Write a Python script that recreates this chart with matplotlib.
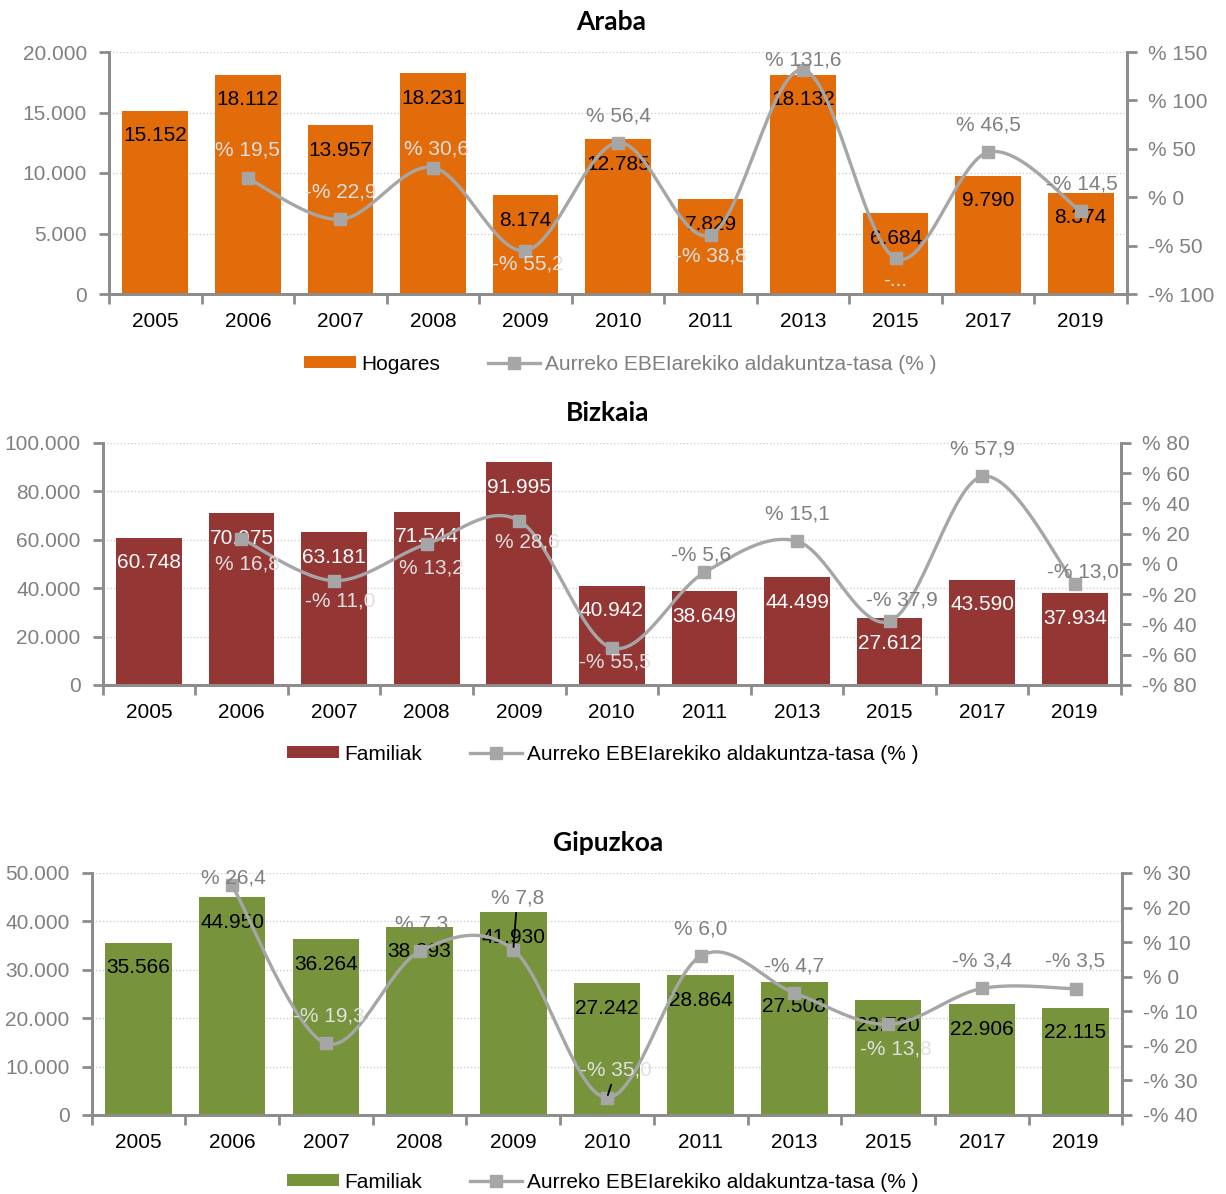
import numpy as np
import matplotlib
matplotlib.use("Agg")
import matplotlib.pyplot as plt
from matplotlib.lines import Line2D
from matplotlib.patches import Patch

plt.rcParams['font.family'] = ['Liberation Sans', 'DejaVu Sans']

years = ["2005", "2006", "2007", "2008", "2009", "2010", "2011", "2013", "2015", "2017", "2019"]

araba_values = [15152, 18112, 13957, 18231, 8174, 12785, 7829, 18132, 6684, 9790, 8374]
araba_pct = [None, 19.5, -22.9, 30.6, -55.2, 56.4, -38.8, 131.6, -63.1, 46.5, -14.5]

bizkaia_values = [60748, 70975, 63181, 71544, 91995, 40942, 38649, 44499, 27612, 43590, 37934]
bizkaia_pct = [None, 16.8, -11.0, 13.2, 28.6, -55.5, -5.6, 15.1, -37.9, 57.9, -13.0]

gipuzkoa_values = [35566, 44950, 36264, 38893, 41930, 27242, 28864, 27508, 23720, 22906, 22115]
gipuzkoa_pct = [None, 26.4, -19.3, 7.3, 7.8, -35.0, 6.0, -4.7, -13.8, -3.4, -3.5]

titles = ["Araba", "Bizkaia", "Gipuzkoa"]
bar_names = ["Hogares", "Familiak", "Familiak"]
line_name = "Aurreko EBEIarekiko aldakuntza-tasa (% )"

LIGHT = '#e0e0e0'
DARK = '#7f7f7f'
GREY_LINE = '#a6a6a6'
SPINE = '#8c8c8c'
PX = 0.72  # points per pixel at dpi 100

panels = [
    dict(values=araba_values, pct=araba_pct, color='#E36C0A', barlabel='black',
         rect=[109/1226, 1-294/1194, 1018/1226, 242/1194],
         ylim=(0, 20000), ystep=5000, y2lim=(-100, 150), y2step=50,
         title_xy=(611/1226, 1-22/1194), leg_xy=(620/1226, 1-364/1194),
         leg_text2='#7f7f7f',
         dy=[None, 28, 27, 19, -13, 27, -21, 10, -22, 27, 27],
         dx=[0, 0, 0, 4, 2, 0, 0, 0, 0, 0, 1],
         lc=[None, LIGHT, LIGHT, LIGHT, LIGHT, DARK, LIGHT, DARK, LIGHT, DARK, DARK],
         override={8: "-..."}, leaders=[]),
    dict(values=bizkaia_values, pct=bizkaia_pct, color='#943634', barlabel='white',
         rect=[102.6/1226, 1-685/1194, 1018.4/1226, 242/1194],
         ylim=(0, 100000), ystep=20000, y2lim=(-80, 80), y2step=20,
         title_xy=(608/1226, 1-413/1194), leg_xy=(603/1226, 1-754/1194),
         leg_text2='black',
         dy=[None, -25, -20, -24, -21, -14, 17, 27, 21, 27, 12],
         dx=[0, 6, 6, 5, 8, 3, -3, 0, 12, 0, 8],
         lc=[None, LIGHT, LIGHT, LIGHT, LIGHT, LIGHT, DARK, DARK, DARK, DARK, DARK],
         override={}, leaders=[]),
    dict(values=gipuzkoa_values, pct=gipuzkoa_pct, color='#77933C', barlabel='black',
         rect=[91.6/1226, 1-1115/1194, 1030.8/1226, 242/1194],
         ylim=(0, 50000), ystep=10000, y2lim=(-40, 30), y2step=10,
         title_xy=(608/1226, 1-843/1194), leg_xy=(603/1226, 1-1182/1194),
         leg_text2='black',
         dy=[None, 7, 27, 27, 52, 28, 27, 27, -25, 27, 28],
         dx=[0, 1, 3, 2, 4, 9, 0, 0, 8, 0, 0],
         lc=[None, DARK, LIGHT, DARK, DARK, LIGHT, DARK, DARK, LIGHT, DARK, DARK],
         override={}, leaders=[4, 5]),
]


def thousands(v):
    return f"{int(v):,}".replace(",", ".")


def pct_axis(v):
    v = int(round(v))
    return f"-% {abs(v)}" if v < 0 else f"% {v}"


def pct_label(v):
    s = f"% {abs(v):.1f}".replace(".", ",")
    return "-" + s if v < 0 else s


def smooth(xs, ys, n=30):
    """Excel-like smoothed line: cubic Bezier with Catmull-Rom control points."""
    xs = np.asarray(xs, float)
    ys = np.asarray(ys, float)
    P = np.column_stack([xs, ys])
    out = [P[0]]
    for i in range(len(P) - 1):
        p0 = P[i - 1] if i > 0 else P[i]
        p1 = P[i]
        p2 = P[i + 1]
        p3 = P[i + 2] if i + 2 < len(P) else P[i + 1]
        c1 = p1 + (p2 - p0) / 6.0
        c2 = p2 - (p3 - p1) / 6.0
        t = np.linspace(0, 1, n)[1:, None]
        seg = ((1 - t) ** 3) * p1 + 3 * ((1 - t) ** 2) * t * c1 + 3 * (1 - t) * t ** 2 * c2 + t ** 3 * p2
        out.extend(seg)
    out = np.array(out)
    return out[:, 0], out[:, 1]


fig = plt.figure(figsize=(12.26, 11.94), dpi=100)
FS = 15
x = np.arange(len(years))

for k, p in enumerate(panels):
    ax = fig.add_axes(p['rect'])
    ax2 = ax.twinx()
    ax2.set_zorder(ax.get_zorder() + 1)
    ax2.patch.set_visible(False)

    ax.bar(x, p['values'], width=0.71, color=p['color'], zorder=2)
    ax.set_xlim(-0.5, len(years) - 0.5)
    ax.set_ylim(*p['ylim'])
    ax.set_yticks(np.arange(p['ylim'][0], p['ylim'][1] + 1, p['ystep']))
    ax.set_yticklabels([thousands(v) for v in ax.get_yticks()])
    ax.set_axisbelow(True)
    ax.yaxis.grid(True, linestyle=(0, (1, 1.5)), color='#d0d0d0', linewidth=1.0)

    ax.set_xticks(x)
    ax.set_xticklabels(years)
    ax.set_xticks(np.arange(-0.5, len(years), 1.0), minor=True)
    ax.tick_params(axis='x', which='major', length=0, pad=13, labelsize=FS, labelcolor='black')
    ax.tick_params(axis='x', which='minor', length=7, width=2, color=SPINE, direction='out')
    ax.tick_params(axis='y', length=7, width=2, color=SPINE, direction='out', pad=9,
                   labelsize=FS, labelcolor='#808080')

    for s in ['top']:
        ax.spines[s].set_visible(False)
        ax2.spines[s].set_visible(False)
    for s in ['left', 'bottom', 'right']:
        ax.spines[s].set_color(SPINE)
        ax.spines[s].set_linewidth(2)
        ax2.spines[s].set_color(SPINE)
        ax2.spines[s].set_linewidth(2)

    ax2.set_ylim(*p['y2lim'])
    ax2.set_yticks(np.arange(p['y2lim'][0], p['y2lim'][1] + 1, p['y2step']))
    ax2.set_yticklabels([pct_axis(v) for v in ax2.get_yticks()])
    ax2.tick_params(axis='y', length=7, width=2, color=SPINE, direction='out', pad=8,
                    labelsize=FS, labelcolor='#808080')

    # bar value labels
    for i, v in enumerate(p['values']):
        ax.annotate(thousands(v), (i, v), xytext=(0, -25 * PX), textcoords='offset points',
                    ha='center', va='center', fontsize=FS, color=p['barlabel'], zorder=3)

    # percentage line
    idx = [i for i, v in enumerate(p['pct']) if v is not None]
    vals = [p['pct'][i] for i in idx]
    sx, sy = smooth(idx, vals)
    ax2.plot(sx, sy, color=GREY_LINE, lw=2.4, solid_capstyle='round', zorder=3)
    ax2.plot(idx, vals, ls='none', marker='s', ms=8, color=GREY_LINE, zorder=4)

    for i in idx:
        v = p['pct'][i]
        txt = p['override'].get(i, pct_label(v))
        kw = {}
        if i in p['leaders']:
            kw['arrowprops'] = dict(arrowstyle='-', color='black', lw=1.3, shrinkA=2, shrinkB=2)
        ax2.annotate(txt, (i, v), xytext=(p['dx'][i] * PX, p['dy'][i] * PX),
                     textcoords='offset points', ha='center', va='center',
                     fontsize=FS, color=p['lc'][i], zorder=5, **kw)

    fig.text(p['title_xy'][0], p['title_xy'][1], titles[k], ha='center', va='center',
             fontsize=19, fontweight='bold', family=['Lato', 'DejaVu Sans'])

    handles = [Patch(facecolor=p['color'], edgecolor='none'),
               Line2D([], [], color=GREY_LINE, lw=2.4, marker='s', ms=8)]
    leg = fig.legend(handles, [bar_names[k], line_name], loc='center',
                     bbox_to_anchor=p['leg_xy'], ncol=2, frameon=False, fontsize=FS,
                     handlelength=2.5, handleheight=0.55, handletextpad=0.25,
                     columnspacing=2.3)
    texts = leg.get_texts()
    texts[0].set_color('black')
    texts[1].set_color(p['leg_text2'])

fig.savefig("out.png", dpi=100)
